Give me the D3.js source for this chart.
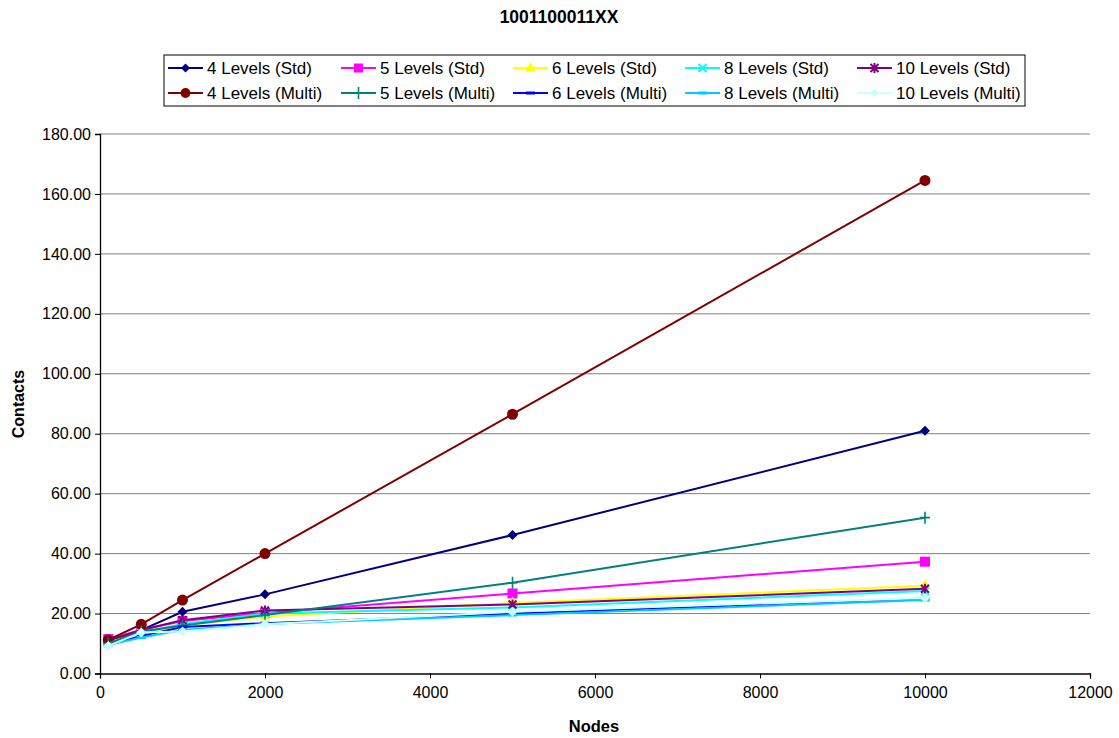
<!DOCTYPE html>
<html>
<head>
<meta charset="utf-8">
<script src="https://cdn.jsdelivr.net/npm/d3@7"></script>
<style>
  body { margin: 0; background: #fff; }
  svg { font-family: "Liberation Sans", Arial, sans-serif; }
</style>
</head>
<body>
<div id="chart"></div>
<script>
var nodes = [100, 500, 1000, 2000, 5000, 10000];

var seriesNames = ["4 Levels (Std)", "5 Levels (Std)", "6 Levels (Std)", "8 Levels (Std)", "10 Levels (Std)",
                   "4 Levels (Multi)", "5 Levels (Multi)", "6 Levels (Multi)", "8 Levels (Multi)", "10 Levels (Multi)"];
var seriesColors = ["#000080", "#FF00FF", "#FFFF00", "#00FFFF", "#800080",
                    "#800000", "#008080", "#0000FF", "#00CCFF", "#CCFFFF"];
var seriesMarkers = ["diamond", "square", "triangle", "x", "star",
                     "circle", "plus", "dash", "dash", "diamond"];

var std4   = [10.5, 14.5, 20.6, 26.4, 46.2, 81.0];
var std5   = [11.5, 14.5, 17.5, 20.2, 26.7, 37.3];
var std6   = [10.5, 13.5, 16.0, 19.0, 23.5, 29.3];
var std8   = [10.0, 13.5, 16.5, 20.0, 22.0, 27.5];
var std10  = [11.0, 14.5, 17.8, 21.0, 23.0, 28.3];
var multi4 = [11.2, 16.4, 24.5, 40.0, 86.5, 164.5];
var multi5 = [10.0, 14.0, 16.0, 19.5, 30.3, 52.0];
var multi6 = [9.5, 12.5, 15.5, 16.8, 20.0, 25.0];
var multi8 = [9.5, 12.0, 14.5, 16.5, 19.5, 24.5];
var multi10 = [9.2, 13.7, 14.0, 16.4, 20.6, 25.2];

var seriesValues = [std4, std5, std6, std8, std10, multi4, multi5, multi6, multi8, multi10];

var xTicks = [0, 2000, 4000, 6000, 8000, 10000, 12000];
var yTicks = [0, 20, 40, 60, 80, 100, 120, 140, 160, 180];

var width = 1119, height = 738;
var plotLeft = 100, plotRight = 1090, plotTop = 134, plotBottom = 673.5;

var svg = d3.select("#chart").append("svg")
  .attr("width", width).attr("height", height);

var xScale = d3.scaleLinear().domain([0, 12000]).range([plotLeft, plotRight]);
var yScale = d3.scaleLinear().domain([0, 180]).range([plotBottom, plotTop]);

// gridlines
svg.append("g").selectAll("line").data(yTicks.filter(function(d){ return d > 0; })).enter().append("line")
  .attr("x1", plotLeft).attr("x2", plotRight)
  .attr("y1", function(d){ return yScale(d); })
  .attr("y2", function(d){ return yScale(d); })
  .style("stroke", "#808080").style("stroke-width", 1);

// axes
var yAxis = svg.append("g")
  .attr("transform", "translate(" + plotLeft + ",0)")
  .call(d3.axisLeft(yScale).tickValues(yTicks).tickFormat(d3.format(".2f")).tickSize(5).tickPadding(4));
var xAxis = svg.append("g")
  .attr("transform", "translate(0," + plotBottom + ")")
  .call(d3.axisBottom(xScale).tickValues(xTicks).tickFormat(d3.format("d")).tickSize(5).tickPadding(8));

[xAxis, yAxis].forEach(function(a){
  a.select(".domain").style("stroke", "#000").style("stroke-width", 1.3);
  a.selectAll(".tick line").style("stroke", "#000");
  a.selectAll("text").style("font-size", "16px").style("fill", "#000")
    .style("font-family", "'Liberation Sans', Arial, sans-serif");
});

// markers
function drawMarker(g, type, color, s) {
  if (type == "circle") {
    g.append("circle").attr("r", s * 0.55).attr("fill", color);
  } else if (type == "diamond") {
    g.append("path").attr("d", d3.symbol().type(d3.symbolSquare).size(s * s * 0.5))
      .attr("transform", "rotate(45)").attr("fill", color);
  } else if (type == "square") {
    g.append("rect").attr("x", -s/2).attr("y", -s/2).attr("width", s).attr("height", s).attr("fill", color);
  } else if (type == "triangle") {
    g.append("path").attr("d", d3.symbol().type(d3.symbolTriangle).size(s * s * 0.55)).attr("fill", color);
  } else if (type == "x") {
    g.append("path").attr("d", "M-4,-4L4,4M-4,4L4,-4").attr("stroke", color).attr("stroke-width", 1.8);
  } else if (type == "star") {
    g.append("path").attr("d", "M-4,-4L4,4M-4,4L4,-4M0,-5L0,5").attr("stroke", color).attr("stroke-width", 2);
  } else if (type == "plus") {
    g.append("path").attr("d", "M-5,0L5,0M0,-6L0,6").attr("stroke", color).attr("stroke-width", 1.6);
  } else if (type == "dash") {
    g.append("rect").attr("x", -4.5).attr("y", -1.5).attr("width", 9).attr("height", 3).attr("fill", color);
  }
}

var line = d3.line()
  .x(function(d, i){ return xScale(nodes[i]); })
  .y(function(d){ return yScale(d); });

seriesValues.forEach(function(vals, k){
  var g = svg.append("g");
  g.append("path").datum(vals)
    .attr("d", line)
    .attr("fill", "none")
    .attr("stroke", seriesColors[k])
    .attr("stroke-width", 2);
  vals.forEach(function(v, i){
    var m = g.append("g").attr("transform", "translate(" + xScale(nodes[i]) + "," + yScale(v) + ")");
    drawMarker(m, seriesMarkers[k], seriesColors[k], 10);
  });
});

// title
svg.append("text")
  .attr("x", 559).attr("y", 23)
  .style("text-anchor", "middle")
  .style("font-weight", "bold").style("font-size", "17.5px")
  .text("1001100011XX");

// axis titles
svg.append("text")
  .attr("transform", "rotate(-90)")
  .attr("x", -404).attr("y", 24)
  .style("text-anchor", "middle")
  .style("font-weight", "bold").style("font-size", "16px")
  .text("Contacts");

svg.append("text")
  .attr("x", 594).attr("y", 732)
  .style("text-anchor", "middle")
  .style("font-weight", "bold").style("font-size", "16.5px")
  .text("Nodes");

// legend
var legend = svg.append("g");
legend.append("rect")
  .attr("x", 164).attr("y", 55).attr("width", 861).attr("height", 51)
  .attr("fill", "#fff").attr("stroke", "#000").attr("stroke-width", 1);

var colX = [168, 341, 513, 685, 857];
var rowY = [68, 93];
seriesNames.forEach(function(name, k){
  var cx = colX[k % 5], cy = rowY[Math.floor(k / 5)];
  var item = legend.append("g").attr("transform", "translate(" + cx + "," + cy + ")");
  item.append("line").attr("x1", 0).attr("x2", 35).attr("y1", 0).attr("y2", 0)
    .attr("stroke", seriesColors[k]).attr("stroke-width", 2);
  drawMarker(item.append("g").attr("transform", "translate(17.5,0)"), seriesMarkers[k], seriesColors[k], 9);
  item.append("text").attr("x", 39).attr("y", 6)
    .style("font-size", "17px")
    .text(name);
});
</script>
</body>
</html>
